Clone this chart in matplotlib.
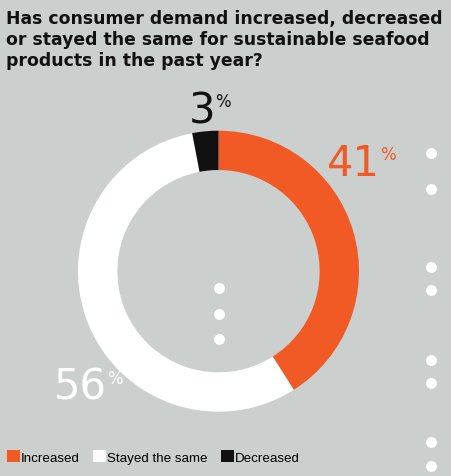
import matplotlib
matplotlib.use("Agg")
import matplotlib.pyplot as plt
from matplotlib.patches import Patch

# ---- data ----
categories = ["Increased", "Stayed the same", "Decreased"]
values = [41, 56, 3]
label_texts = ["41", "56", "3"]
colors = ["#f15a24", "#ffffff", "#111111"]
label_colors = ["#f15a24", "#ffffff", "#111111"]
title = ("Has consumer demand increased, decreased\n"
         "or stayed the same for sustainable seafood\n"
         "products in the past year?")

# decorative dots (pixel positions in the figure)
deco_x = [219, 219, 219, 431, 431, 431, 431, 431, 431, 431, 431]
deco_y = [289, 315, 340, 154, 190, 268, 291, 361, 384, 443, 467]

BG = "#cbcfce"
W, H = 451, 477
fig = plt.figure(figsize=(W / 100, H / 100), dpi=100, facecolor=BG)

ov = fig.add_axes([0, 0, 1, 1], facecolor="none")
ov.set_xlim(0, W)
ov.set_ylim(H, 0)
ov.axis("off")

# donut
cx, cy, R = 218.5, 272.2, 140.5
ax = fig.add_axes([(cx - R) / W, (H - cy - R) / H, 2 * R / W, 2 * R / H], facecolor="none")
wedges, _ = ax.pie(values, colors=colors, startangle=90, counterclock=False,
                   radius=1.0, wedgeprops=dict(width=0.28, linewidth=0))
ax.set_xlim(-1, 1)
ax.set_ylim(-1, 1)
ax.axis("off")

# value labels
label_pos = [(327, 176), (54, 400), (189, 123)]  # left, baseline (pixels)
for (lx, ly), txt, col in zip(label_pos, label_texts, label_colors):
    t = ov.text(lx, ly, txt, color=col, fontsize=30, family="DejaVu Sans",
                ha="left", va="baseline", zorder=6)
    ov.annotate("%", xy=(1, 0.92), xycoords=t, xytext=(0, 0), textcoords="offset points",
                color=col, fontsize=12, family="DejaVu Sans",
                ha="left", va="top", zorder=6)

ov.scatter(deco_x, deco_y, s=62, color="white", linewidths=0, zorder=5)

# title
ov.text(6, 10, title, fontsize=12.4, fontweight="bold", family="DejaVu Sans",
        color="#111111", ha="left", va="top", linespacing=1.2)

# legend
handles = [Patch(facecolor=c, edgecolor="none") for c in colors]
fig.legend(handles, categories, loc="center left", bbox_to_anchor=(7 / W, 1 - 458 / H),
           ncol=3, frameon=False, handlelength=0.95, handleheight=0.95,
           handletextpad=0.1, columnspacing=1.0, borderpad=0, borderaxespad=0,
           prop={"family": ["Liberation Sans", "DejaVu Sans"], "size": 9.6})

fig.savefig("out.png", dpi=100, facecolor=BG)
